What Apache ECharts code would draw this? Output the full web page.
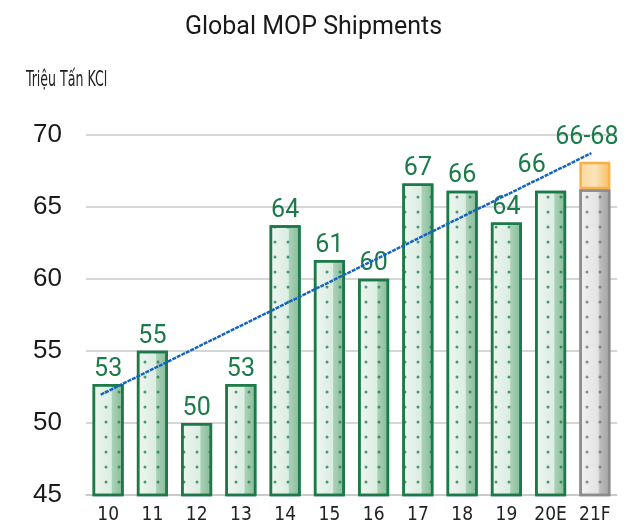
<!DOCTYPE html>
<html>
<head>
<meta charset="utf-8">
<script src="https://cdn.jsdelivr.net/npm/echarts@6/dist/echarts.min.js"></script>
<style>html,body{margin:0;padding:0;background:#fff;}#c{width:627px;height:527px;}</style>
</head>
<body>
<div id="c"></div>
<script>
const categories = ['10','11','12','13','14','15','16','17','18','19','20E','21F'];
const shipments = [52.7, 55.0, 50.0, 52.7, 63.7, 61.3, 60.0, 66.6, 66.1, 63.9, 66.1, 66.2];
const forecastRange = [null, null, null, null, null, null, null, null, null, null, null, 1.9];
const valueLabels = ['53','55','50','53','64','61','60','67','66','64','66','66-68'];
const trendX = [-0.17, 10.92];
const trendY = [51.95, 68.7];
const yTicks = [45, 50, 55, 60, 65, 70];

const NARROW = '"Liberation Sans Narrow","DejaVu Sans Condensed","DejaVu Sans",sans-serif';
const chart = echarts.init(document.getElementById('c'), null, {renderer:'canvas'});
const G = echarts.graphic.LinearGradient;
const greenFill = new G(0,0,1,0,[
  {offset:0,color:'#eef6f0'},{offset:0.6,color:'#dcede2'},
  {offset:0.64,color:'#a9d1b6'},{offset:0.9,color:'#8ec0a0'},{offset:1,color:'#c9e2d1'}]);
const grayFill = new G(0,0,1,0,[
  {offset:0,color:'#f1f1f1'},{offset:0.6,color:'#e3e3e3'},
  {offset:0.66,color:'#bdbdbd'},{offset:0.9,color:'#a9a9a9'},{offset:1,color:'#d6d6d6'}]);
const orangeFill = new G(0,0,1,0,[
  {offset:0,color:'#fbd79c'},{offset:0.5,color:'#fbe3bb'},{offset:1,color:'#f9bd5e'}]);
const greenDecal = {symbol:'circle', symbolSize:0.75, dashArrayX:[4,9], dashArrayY:[4,11], color:'rgba(27,122,71,0.75)'};
const grayDecal = {symbol:'circle', symbolSize:0.75, dashArrayX:[4,9], dashArrayY:[4,11], color:'rgba(110,110,110,0.75)'};

const labelBase = {show:true, position:'top', distance:2, fontFamily:'Roboto', fontSize:25, color:'#1b7a4a'};

const mainData = shipments.map((v,i)=>{
  const item = {value:v, label:Object.assign({}, labelBase, {formatter: valueLabels[i]})};
  if (i === 10) item.label.offset = [-19,-10];
  if (i === 11) { item.itemStyle = {color:grayFill, borderColor:'#8c8c8c', borderWidth:2.5, decal:grayDecal}; item.label = {show:false}; }
  return item;
});
const rangeData = forecastRange.map((v,i)=> v==null ? null : {
  value:v, label:Object.assign({}, labelBase, {formatter: valueLabels[i], offset:[-8,-10]})
});

chart.setOption({
  animation:false,
  title:{text:'Global MOP Shipments', left:'center', top:10,
    textStyle:{fontFamily:'Roboto', fontSize:25, fontWeight:'normal', color:'#1a1a1a'}},
  graphic:[{type:'text', x:26, y:70, scaleY:1.55,
    style:{text:'Triệu Tấn KCl', fontFamily:NARROW, fontSize:14, fill:'#222', textVerticalAlign:'top'}}],
  grid:{left:86, right:10, top:134.4, bottom:32},
  xAxis:[
    {type:'category', data:categories, axisTick:{show:false},
     axisLine:{show:true, lineStyle:{color:'#c8c8c8', width:1.5}},
     axisLabel:{fontFamily:NARROW, fontSize:19, color:'#222', margin:11}},
    {type:'value', min:-0.5, max:11.5, show:false}
  ],
  yAxis:{type:'value', min:45, max:70, interval:5,
    axisLabel:{fontFamily:'Liberation Sans', fontSize:26, color:'#1a1a1a', margin:24, padding:[0,0,16,0]},
    splitLine:{lineStyle:{color:'#c8c8c8', width:1.5}},
    axisLine:{show:false}, axisTick:{show:false}},
  series:[
    {type:'bar', stack:'s', data:mainData, barWidth:31, xAxisIndex:0,
     itemStyle:{color:greenFill, borderColor:'#1b7a47', borderWidth:2.5, decal:greenDecal}},
    {type:'bar', stack:'s', data:rangeData, barWidth:31, xAxisIndex:0,
     itemStyle:{color:orangeFill, borderColor:'#f7b04a', borderWidth:2.5}},
    {type:'line', xAxisIndex:1, data:trendX.map((x,i)=>[x,trendY[i]]), symbol:'none',
     lineStyle:{color:'#1565c0', width:2.5, type:[4,1]}, z:5}
  ]
});
</script>
</body>
</html>
